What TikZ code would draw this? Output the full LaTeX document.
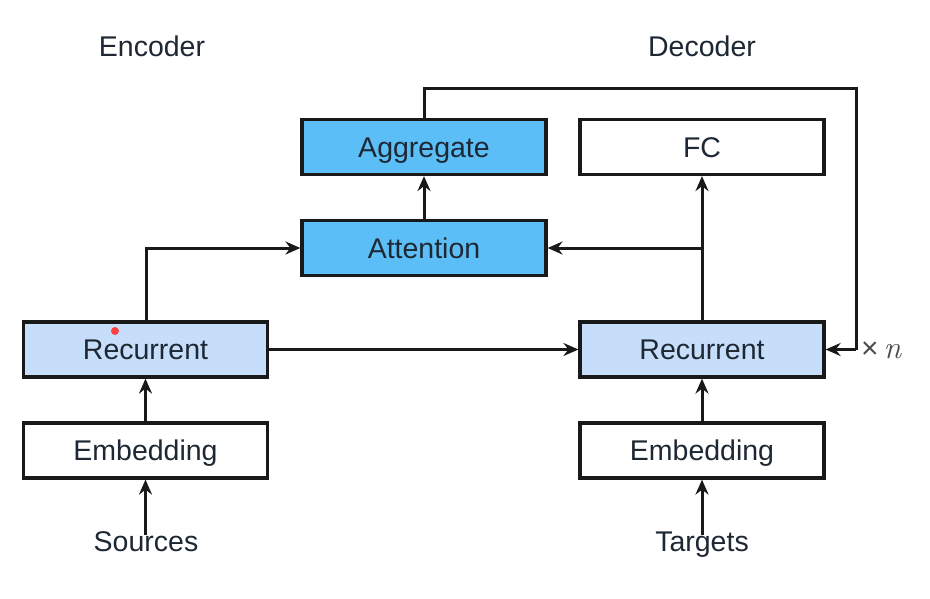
\documentclass[tikz,border=0pt]{standalone}
\usepackage{fontspec}
\setmainfont{Liberation Sans}
\newfontfamily\lmrfam{Latin Modern Roman}
\usetikzlibrary{arrows.meta}
\definecolor{lightblue}{HTML}{C6DEFA}
\definecolor{midblue}{HTML}{5CBEF6}
\definecolor{txt}{HTML}{1E2834}
\begin{document}
\begin{tikzpicture}[x=1pt,y=-1pt,
  blk/.style={draw=black!90,line width=3.2pt,minimum width=244pt,minimum height=55pt,inner sep=0pt,font=\fontsize{28.5}{30}\selectfont,text=txt,text height=20.4pt,text depth=0pt},
  lbl/.style={font=\fontsize{28.5}{30}\selectfont,text=txt,inner sep=0pt,text height=20.4pt,text depth=0pt},
  conn/.style={line width=3pt,draw=black!90,-{Stealth[length=15pt,width=13pt,inset=5pt]}},
  plain/.style={line width=3pt,draw=black!90}]
\useasboundingbox (0,0) rectangle (930,598);
\fill[white] (0,0) rectangle (930,598);
\node[lbl] (enc) at (152,46) {Encoder};
\node[lbl] (dec) at (702,46) {Decoder};
\node[blk,fill=midblue] (agg) at (424,147) {Aggregate};
\node[blk,fill=midblue] (att) at (424,248) {Attention};
\node[blk,fill=white] (fc) at (702,147) {FC};
\node[blk,fill=lightblue] (erec) at (145.5,349.5) {Recurrent};
\node[blk,fill=white] (eemb) at (145.5,450.5) {Embedding};
\node[blk,fill=lightblue] (drec) at (702,349.5) {Recurrent};
\node[blk,fill=white] (demb) at (702,450.5) {Embedding};
\node[lbl] (src) at (146,541) {Sources};
\node[lbl] (tgt) at (702,541) {Targets};
\node[anchor=base west,inner sep=0pt,text=black!70,font=\fontsize{30}{32}\selectfont] (xn) at (861,358) {×\,{\lmrfam\itshape\fontsize{32}{34}\selectfont n}};
\fill[red!75!white] (115,331) circle (4pt);
\coordinate (lc) at (146,248);
\coordinate (rc) at (702,248);
\coordinate (t1) at (424,88);
\coordinate (t2) at (856,88);
\coordinate (t3) at (856,349.5);
\draw[conn] ([yshift=-4pt]src.north -| eemb.south) -- (eemb.south);
\draw[conn] (eemb) -- (erec);
\draw[conn] (erec.north -| lc) -- (lc) -- (att.west);
\draw[conn] (erec.east) -- (drec.west);
\draw[conn] ([yshift=-4pt]tgt.north -| demb.south) -- (demb.south);
\draw[conn] (demb) -- (drec);
\draw[conn] (drec.north) -- (fc.south);
\draw[conn] (rc) -- (att.east);
\draw[conn] (att) -- (agg);
\draw[plain] (agg.north) -- (t1) -- (t2) -- (t3);
\draw[conn] (t3) -- (drec.east);
\end{tikzpicture}
\end{document}
